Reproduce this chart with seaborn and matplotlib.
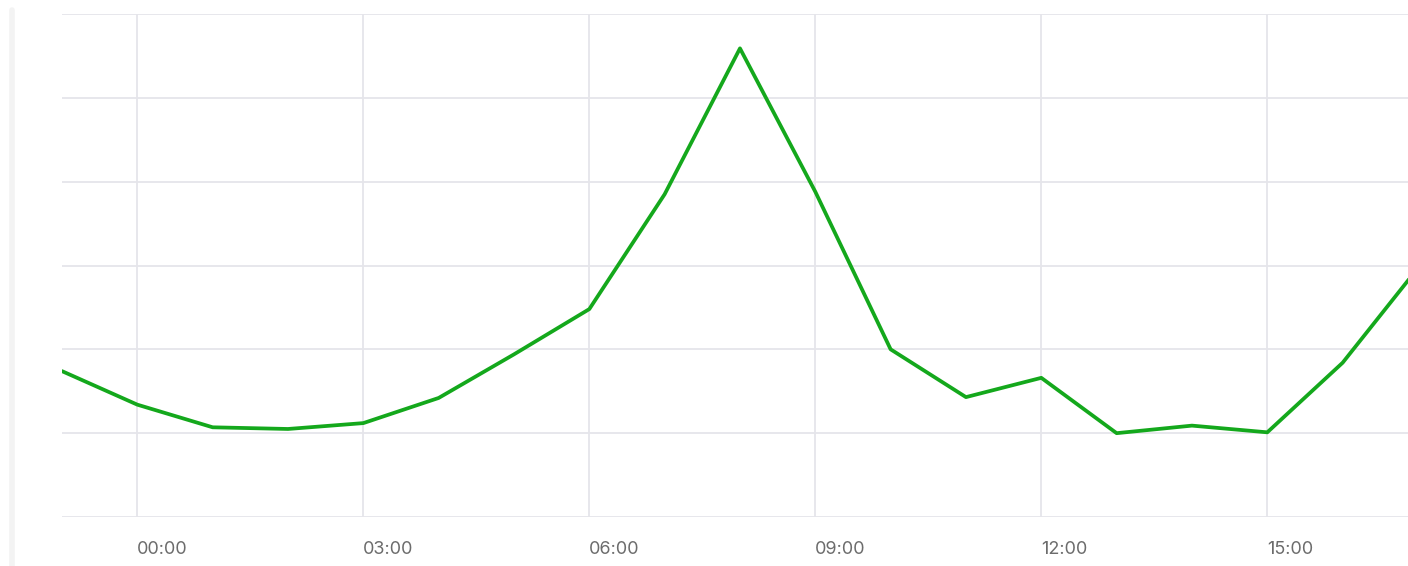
import matplotlib
matplotlib.use("Agg")
import matplotlib.pyplot as plt
import seaborn as sns
import pandas as pd
from matplotlib.lines import Line2D

# Hourly readings (hour offset from midnight; -1 is 23:00 of the day before)
hours = [-1, 0, 1, 2, 3, 4, 5, 6, 7, 8, 9, 10, 11, 12, 13, 14, 15, 16, 17]
values = [1.74, 1.34, 1.07, 1.05, 1.12, 1.42, 1.94, 2.48, 3.85, 5.59, 3.88,
          2.00, 1.43, 1.66, 1.00, 1.09, 1.01, 1.84, 2.97]

tick_hours = [0, 3, 6, 9, 12, 15]
tick_labels = ["00:00", "03:00", "06:00", "09:00", "12:00", "15:00"]
grid_levels = [0, 1, 2, 3, 4, 5, 6]

df = pd.DataFrame({"hour": hours, "value": values})

sns.set_theme(style="white")
plt.rcParams["font.family"] = ["Inter", "DejaVu Sans"]

W, H = 1408, 566
fig = plt.figure(figsize=(W / 100, H / 100), dpi=100)
fig.patch.set_facecolor("white")

ax = fig.add_axes([62 / W, (H - 517) / H, 1 - 62 / W, (517 - 14) / H])
grid_col = "#e5e5ea"

sns.lineplot(data=df, x="hour", y="value", ax=ax, color="#14a81c",
             linewidth=2.7, zorder=3)

ax.set_xlim(-1, (1408 - 137) / 75.35)
ax.set_ylim(0, 6)

ax.set_yticks(grid_levels)
ax.set_yticklabels([])
ax.tick_params(axis="y", length=0)

ax.set_xticks(tick_hours)
ax.set_xticklabels(tick_labels, ha="left", fontsize=13, color="#6c6c6c")
ax.tick_params(axis="x", length=11.5, width=1.2, color=grid_col, pad=6)

ax.grid(True, axis="both", color=grid_col, linewidth=1.3, zorder=0)
ax.set_xlabel("")
ax.set_ylabel("")
for s in ax.spines.values():
    s.set_visible(False)

# faint panel border on the left
fig.add_artist(Line2D([12 / W, 12 / W], [0, 1 - 10 / H], transform=fig.transFigure,
                      color="#f3f3f3", linewidth=4, zorder=0))

fig.savefig("out.png", dpi=100, facecolor="white")
